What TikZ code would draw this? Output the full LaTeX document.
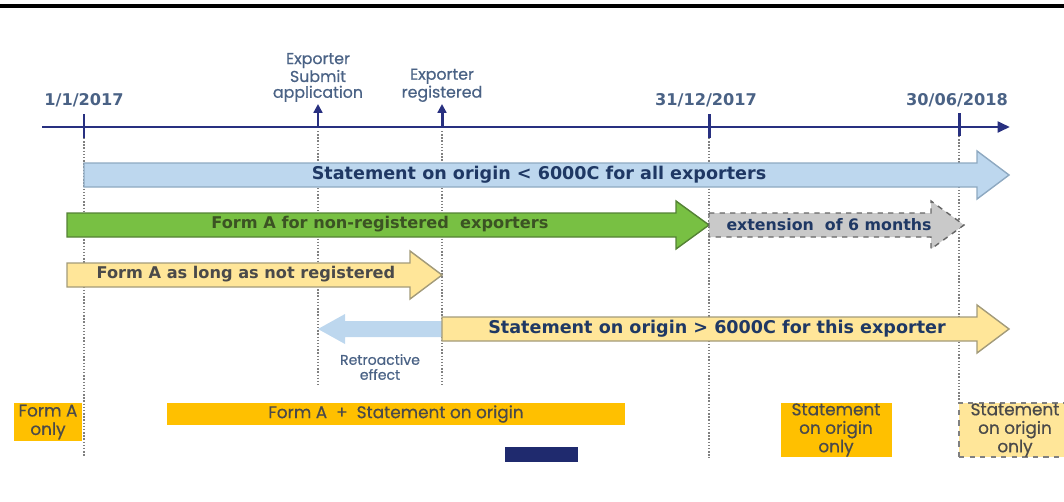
\documentclass[tikz,border=0pt]{standalone}
\usepackage{fontspec}
\setmainfont{DejaVu Sans}
\newfontfamily\geofont{Poppins}[FakeBold=0.6]
\usetikzlibrary{arrows.meta}

\definecolor{navyline}{HTML}{283080}
\definecolor{labelblue}{HTML}{4A6285}
\definecolor{textnavy}{HTML}{1F3864}
\definecolor{bluefill}{HTML}{BDD7EE}
\definecolor{blueedge}{HTML}{8EA9C1}
\definecolor{greenfill}{HTML}{78C043}
\definecolor{greenedge}{HTML}{548235}
\definecolor{greentext}{HTML}{3B5323}
\definecolor{grayfill}{HTML}{C9C9C9}
\definecolor{yellowfill}{HTML}{FFE699}
\definecolor{yellowedge}{HTML}{A39B7A}
\definecolor{orangefill}{HTML}{FFC000}
\definecolor{boxtext}{HTML}{4A4A4A}
\definecolor{navybox}{HTML}{1F2A6E}

\tikzset{
  timeline/.style={draw=navyline, line width=1.7pt, -{Triangle[length=7pt,width=6pt]}},
  tick/.style={draw=navyline, line width=1.7pt},
  evarrow/.style={draw=navyline, line width=1.7pt, -{Triangle[length=5pt,width=5pt]}},
  guide/.style={draw=gray, densely dotted, line width=0.8pt},
  datelabel/.style={text=labelblue, font=\fontsize{9.2}{11}\selectfont\bfseries},
  evlabel/.style={text=labelblue, align=center, inner sep=1pt,
    font=\geofont\fontsize{9}{9}\selectfont},
  barlabel/.style={font=\fontsize{10}{11}\selectfont\bfseries},
  bluebar/.style={fill=bluefill, draw=blueedge, line width=0.8pt},
  greenbar/.style={fill=greenfill, draw=greenedge, line width=0.8pt},
  graybar/.style={fill=grayfill, draw=gray!80!black, dashed, line width=0.8pt},
  yellowbar/.style={fill=yellowfill, draw=yellowedge, line width=0.8pt},
  periodbox/.style={fill=orangefill, text=boxtext, align=center, inner sep=0pt,
    font=\geofont\fontsize{9.6}{10.5}\selectfont},
}

\begin{document}
\begin{tikzpicture}[x=0.02cm, y=-0.02cm]
  \useasboundingbox (0,0) rectangle (1064,501);

  % top rule
  \draw[line width=2.6pt] (0,6) -- (1064,6);

  % time axis
  \coordinate (axisstart) at (42,127);
  \coordinate (axisend) at (1010,127);
  \draw[timeline] (axisstart) -- (axisend);

  \draw[tick] (84,114) -- (84,138);
  \draw[tick] (709,114) -- (709,138);
  \draw[tick] (959,113) -- (959,136);

  \node[datelabel] (jan17) at (84,100) {1/1/2017};
  \node[datelabel] (dec17) at (706,100) {31/12/2017};
  \node[datelabel] (jun18) at (957,100) {30/06/2018};

  \node[evlabel, anchor=south] (submit) at (318,104) {Exporter\\Submit\\application};
  \node[evlabel, anchor=south] (registered) at (442,104) {Exporter\\registered};
  \draw[evarrow] (318,127) -- (submit.south);
  \draw[evarrow] (442,127) -- (registered.south);

  % dotted guides
  \draw[guide] (84,138) -- (84,457);
  \draw[guide] (318,131) -- (318,386);
  \draw[guide] (442,131) -- (442,386);
  \draw[guide] (709,138) -- (709,458);
  \draw[guide] (959,136) -- (959,404);

  % statement < 6000
  \draw[bluebar] (84,163) -- (977,163) -- (977,151) -- (1009,175)
    -- (977,199) -- (977,187) -- (84,187) -- cycle;
  \node[barlabel, text=textnavy] (smallstmt) at (539,175)
    {Statement on origin < 6000C for all exporters};

  % form A non-registered
  \draw[greenbar] (67,213) -- (676,213) -- (676,201) -- (709,225)
    -- (676,249) -- (676,237) -- (67,237) -- cycle;
  \node[barlabel, text=greentext, font=\fontsize{9.2}{11}\selectfont\bfseries] (formanr)
    at (380,224) {Form A for non-registered\ \ exporters};

  \draw[graybar] (709,213) -- (931,213) -- (931,201) -- (964,225)
    -- (931,249) -- (931,237) -- (709,237) -- cycle;
  \node[barlabel, text=textnavy, font=\fontsize{9}{11}\selectfont\bfseries] (extension)
    at (829,225) {extension\ \ of 6 months};

  % form A until registered
  \draw[yellowbar] (67,263) -- (410,263) -- (410,251) -- (442,275)
    -- (410,299) -- (410,287) -- (67,287) -- cycle;
  \node[barlabel, text=boxtext, font=\fontsize{9.2}{11}\selectfont\bfseries] (formareg)
    at (246,274) {Form A as long as not registered};

  % statement > 6000
  \fill[bluefill] (442,321) -- (345,321) -- (345,314) -- (318,329)
    -- (345,344) -- (345,337) -- (442,337) -- cycle;
  \draw[yellowbar] (442,317) -- (977,317) -- (977,305) -- (1009,329)
    -- (977,353) -- (977,341) -- (442,341) -- cycle;
  \node[barlabel, text=textnavy] (bigstmt) at (717,329)
    {Statement on origin > 6000C for this exporter};

  \node[evlabel, font=\geofont\fontsize{8}{8.5}\selectfont] (retro) at (380,367)
    {Retroactive\\effect};

  % periods
  \node[periodbox, minimum width=1.36cm, minimum height=0.76cm] (onlyforma)
    at (48,422) {Form A\\only};
  \node[periodbox, minimum width=9.16cm, minimum height=0.44cm] (both)
    at (396,414) {Form A\ \ +\ \ Statement on origin};
  \fill[navybox] (505,447) rectangle (578,462);
  \node[periodbox, minimum width=2.22cm, minimum height=1.08cm] (onlystmt)
    at (836,430) {Statement\\on origin\\only};
  \node[periodbox, fill=yellowfill, draw=gray, dashed, line width=0.8pt,
    minimum width=2.24cm, minimum height=1.08cm] (onlystmtext)
    at (1015,430) {Statement\\on origin\\only};
\end{tikzpicture}
\end{document}
